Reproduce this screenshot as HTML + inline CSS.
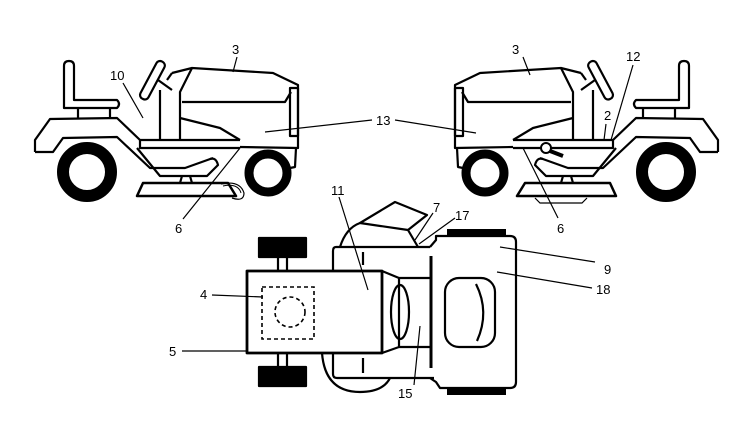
<!DOCTYPE html>
<html><head><style>
html,body{margin:0;padding:0;background:#fff;}
svg{display:block;}
text{font-family:"Liberation Sans",sans-serif;font-size:13px;fill:#000;}
</style></head><body>
<svg width="750" height="426" viewBox="0 0 750 426" xmlns="http://www.w3.org/2000/svg">
<defs>
<g id="trac" fill="none" stroke="#000" stroke-width="2.2" stroke-linejoin="round">
  <!-- seat -->
  <path d="M64,108 L64,66 Q64,61 69,61 Q74,61 74,66 L74,100 L117,100 Q121,104 117,108 Z" fill="#fff"/>
  <path d="M78,108 L78,118 M110,108 L110,118"/>
  <!-- fender / body -->
  <path d="M35,152 L35,140 L50,119 L117,118 L140,140 L240,140"/>
  <path d="M35,152 L53,152 L63,138 L117,137 L150,168 L185,168 L213,158"/>
  <path d="M137,148 L160,176 L207,176 L218,165 Q216,157 210,159"/>
  <!-- rear wheel -->
  <circle cx="87" cy="172" r="24" stroke-width="12"/>
  <!-- front wheel -->
  <circle cx="268" cy="173" r="19" stroke-width="9"/>
  <!-- deck -->
  <path d="M137,196 L143,183 L228,183 L236,196 Z" stroke-width="2.5"/>
  <path d="M182,176 L180,183 M190,176 L192,183"/>
  <!-- steering -->
  <rect x="148" y="59" width="9" height="42" rx="4" transform="rotate(28 152 80)"/>
  <path d="M158,80 L172,90 M160,90 L160,140 M172,73 L192,68 L273,73 L298,85 L298,148 L240,147"/>
  <path d="M172,73 L167,80"/>
  <!-- hood -->
  <path d="M192,68 L180,92 L180,140"/>
  <path d="M182,102 L285,102 L291,92"/>
  <rect x="290" y="88" width="8" height="48"/>
  <path d="M180,118 L220,128 L240,140"/>
  <path d="M296,148 L295,167 L290,168"/>
  <path d="M140,140 L140,148 L240,148"/>
</g>
</defs>
<use href="#trac"/>
<g transform="translate(753,0) scale(-1,1)"><use href="#trac"/></g>
<!-- chute loop left -->
<path d="M221,184 Q240,180 244,193 Q244,202 232,198" fill="none" stroke="#000" stroke-width="1.2"/>
<path d="M223,186 Q238,183 241,193" fill="none" stroke="#000" stroke-width="1"/>
<!-- blade under right deck -->
<path d="M535,198 L540,203 L582,203 L587,198" fill="none" stroke="#000" stroke-width="1.2"/>
<!-- lever right -->
<circle cx="546" cy="148" r="5" fill="#fff" stroke="#000" stroke-width="2"/>
<path d="M550,151 L563,156" stroke="#000" stroke-width="4"/>

<!-- labels top -->
<g stroke="#000" stroke-width="1.2" fill="none">
  <path d="M237,57 L233,72 M123,83 L143,118 M372,120 L265,132 M395,120 L476,133 M183,219 L240,148"/>
  <path d="M523,57 L530,75 M633,65 L611,140 M606,124 L604,140 M558,218 L523,148"/>
</g>
<text x="232" y="54">3</text>
<text x="110" y="80">10</text>
<text x="376" y="125">13</text>
<text x="175" y="233">6</text>
<text x="512" y="54">3</text>
<text x="626" y="61">12</text>
<text x="604" y="120">2</text>
<text x="557" y="233">6</text>

<!-- top view -->
<g fill="none" stroke="#000" stroke-width="2.2" stroke-linejoin="round">
  <rect x="259" y="238" width="47" height="19" fill="#000"/>
  <rect x="259" y="367" width="47" height="19" fill="#000"/>
  <path d="M278,257 L278,271 M287,257 L287,271 M278,353 L278,367 M287,353 L287,367"/>
  <!-- chute top -->
  <path d="M360,223 L395,202 L427,215 L408,230 Z" fill="#fff"/>
  <path d="M340,247 Q346,228 360,223 M408,230 L418,247"/>
  <!-- fender outline -->
  <path d="M430,247 L336,247 Q333,247 333,251 L333,374 Q333,378 337,378 L434,378"/>
  <path d="M322,353 Q325,392 360,392 Q383,392 390,378"/>
  <path d="M363,252 L363,265 M363,358 L363,373"/>
  <!-- main body -->
  <rect x="247" y="271" width="135" height="82" stroke-width="2.8" fill="#fff"/>
  <path d="M382,271 L399,278 L430,278 M382,353 L399,347 L430,347 M399,278 L399,347"/>
  <ellipse cx="400" cy="312" rx="9" ry="27"/>
  <path d="M431,256 L431,368" stroke-width="3"/>
  <!-- deck -->
  <rect x="447" y="229" width="59" height="7" fill="#000" stroke="none"/>
  <rect x="447" y="388" width="59" height="7" fill="#000" stroke="none"/>
  <path d="M430,247 L436,240 L436,236 L510,236 Q516,236 516,242 L516,382 Q516,388 510,388 L440,388 L436,382 L430,378"/>
  <rect x="445" y="278" width="50" height="69" rx="14"/>
  <path d="M476,284 Q490,312 477,341"/>
</g>
<g fill="none" stroke="#000" stroke-width="1.6" stroke-dasharray="4,3">
  <rect x="262" y="287" width="52" height="52"/>
  <circle cx="290" cy="312" r="15"/>
</g>
<g stroke="#000" stroke-width="1.2" fill="none">
  <path d="M339,197 L368,290 M415,240 L433,213 M419,244 L455,218 M500,247 L595,262 M497,272 L592,288 M212,295 L263,297 M182,351 L247,351 M414,385 L420,326"/>
</g>
<text x="331" y="195">11</text>
<text x="433" y="212">7</text>
<text x="455" y="220">17</text>
<text x="604" y="274">9</text>
<text x="596" y="294">18</text>
<text x="200" y="299">4</text>
<text x="169" y="356">5</text>
<text x="398" y="398">15</text>
</svg>
</body></html>
